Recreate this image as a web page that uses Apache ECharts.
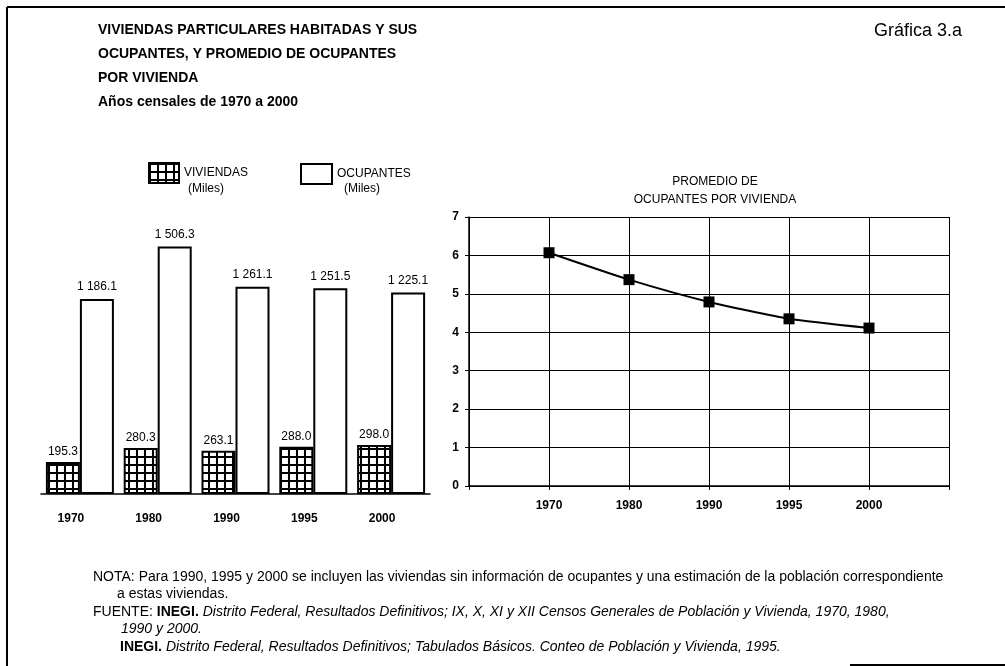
<!DOCTYPE html>
<html>
<head>
<meta charset="utf-8">
<script src="https://cdn.jsdelivr.net/npm/echarts@6/dist/echarts.min.js"></script>
<style>
  html, body { margin: 0; padding: 0; background: #fff; }
  #chart { width: 1005px; height: 666px; }
</style>
</head>
<body>
<div id="chart"></div>
<script>
// datos de la gráfica
const years = ['1970', '1980', '1990', '1995', '2000'];
const viviendas = [195.3, 280.3, 263.1, 288.0, 298.0];   // miles
const ocupantes = [1186.1, 1506.3, 1261.1, 1251.5, 1225.1]; // miles
const promedio = [6.07, 5.37, 4.79, 4.35, 4.11];          // ocupantes por vivienda

const FONT = '"Liberation Sans", Arial, sans-serif';
const NOTE = 14;

// relleno cuadriculado para las barras de viviendas
function gridPattern() {
  const c = document.createElement('canvas');
  c.width = 8; c.height = 8;
  const ctx = c.getContext('2d');
  ctx.fillStyle = '#fff';
  ctx.fillRect(0, 0, 8, 8);
  ctx.fillStyle = '#000';
  ctx.fillRect(0, 0, 8, 2);
  ctx.fillRect(0, 0, 2, 8);
  return c;
}

// 1186.1 -> "1 186.1"
function fmt(v) {
  const parts = v.toFixed(1).split('.');
  return parts[0].replace(/\B(?=(\d{3})+(?!\d))/g, ' ') + '.' + parts[1];
}

const chart = echarts.init(document.getElementById('chart'));

const option = {
  backgroundColor: '#fff',
  animation: false,
  textStyle: { fontFamily: FONT, color: '#000' },
  title: [
    {
      text: 'VIVIENDAS PARTICULARES HABITADAS Y SUS\nOCUPANTES, Y PROMEDIO DE OCUPANTES\nPOR VIVIENDA\nAños censales de 1970 a 2000',
      left: 93, top: 13,
      textStyle: { fontFamily: FONT, fontSize: 14, fontWeight: 'bold', color: '#000', lineHeight: 24 }
    },
    {
      text: 'Gráfica 3.a',
      right: 38, top: 17,
      textStyle: { fontFamily: FONT, fontSize: 18, fontWeight: 'normal', color: '#000' }
    },
    {
      text: 'PROMEDIO DE\nOCUPANTES POR VIVIENDA',
      left: 710, top: 168, textAlign: 'center',
      textStyle: { fontFamily: FONT, fontSize: 12, fontWeight: 'normal', color: '#000', lineHeight: 18, align: 'center' }
    }
  ],
  legend: [
    {
      data: ['VIVIENDAS'], icon: 'rect', left: 143, top: 157, itemWidth: 30, itemHeight: 20, itemGap: 4, selectedMode: false,
      textStyle: { fontFamily: FONT, fontSize: 12, color: '#000' }
    },
    {
      data: ['OCUPANTES'], icon: 'rect', left: 295, top: 158, itemWidth: 31, itemHeight: 20, selectedMode: false,
      textStyle: { fontFamily: FONT, fontSize: 12, color: '#000' }
    }
  ],
  grid: [
    { left: 41, right: 575, top: 231, bottom: 172 },
    { left: 469, right: 56, top: 217, bottom: 180 }
  ],
  xAxis: [
    {
      gridIndex: 0, type: 'category', data: years,
      axisLine: { lineStyle: { color: '#000', width: 1.5 } },
      axisTick: { length: 5, lineStyle: { color: '#000' } },
      axisLabel: { color: '#000', fontSize: 12, fontWeight: 'bold', margin: 19, padding: [0, 18, 0, 0] }
    },
    {
      gridIndex: 1, type: 'category', data: [''].concat(years, ['']), boundaryGap: false,
      axisLine: { lineStyle: { color: '#000', width: 1.5 } },
      axisTick: { length: 4, lineStyle: { color: '#000' } },
      splitLine: { show: true, lineStyle: { color: '#000', width: 1 } },
      axisLabel: { color: '#000', fontSize: 12, fontWeight: 'bold', margin: 14, interval: 0 }
    }
  ],
  yAxis: [
    { gridIndex: 0, type: 'value', min: 0, max: 1600, show: false },
    {
      gridIndex: 1, type: 'value', min: 0, max: 7, interval: 1,
      axisLine: { show: true, lineStyle: { color: '#000', width: 1.5 } },
      axisTick: { show: true, length: 4, lineStyle: { color: '#000' } },
      splitLine: { show: true, lineStyle: { color: '#000', width: 1 } },
      axisLabel: { color: '#000', fontSize: 12, fontWeight: 'bold', margin: 10 }
    }
  ],
  series: [
    {
      name: 'VIVIENDAS', type: 'bar', xAxisIndex: 0, yAxisIndex: 0,
      data: viviendas, barWidth: 34, barGap: '0%',
      itemStyle: { color: { image: gridPattern(), repeat: 'repeat' }, borderColor: '#000', borderWidth: 2 },
      label: { show: true, position: 'top', distance: 4, color: '#000', fontSize: 12, formatter: p => fmt(p.value) }
    },
    {
      name: 'OCUPANTES', type: 'bar', xAxisIndex: 0, yAxisIndex: 0,
      data: ocupantes, barWidth: 34,
      itemStyle: { color: '#fff', borderColor: '#000', borderWidth: 2 },
      label: { show: true, position: 'top', distance: 6, color: '#000', fontSize: 12, formatter: p => fmt(p.value) }
    },
    {
      name: 'PROMEDIO', type: 'line', xAxisIndex: 1, yAxisIndex: 1,
      data: [null].concat(promedio, [null]),
      smooth: 0.2, symbol: 'rect', symbolSize: 11,
      itemStyle: { color: '#000' },
      lineStyle: { color: '#000', width: 2 }
    }
  ],
  graphic: [
    // marco
    { type: 'line', shape: { x1: 7, y1: 7, x2: 1005, y2: 7 }, style: { stroke: '#000', lineWidth: 2 } },
    { type: 'line', shape: { x1: 7, y1: 7, x2: 7, y2: 666 }, style: { stroke: '#000', lineWidth: 2 } },
    { type: 'line', shape: { x1: 850, y1: 665, x2: 1005, y2: 665 }, style: { stroke: '#000', lineWidth: 2 } },
    // unidades de la leyenda
    { type: 'text', x: 206, y: 189, style: { text: '(Miles)', font: '12px ' + FONT, fill: '#000', textAlign: 'center', textVerticalAlign: 'middle' } },
    { type: 'text', x: 362, y: 189, style: { text: '(Miles)', font: '12px ' + FONT, fill: '#000', textAlign: 'center', textVerticalAlign: 'middle' } },
    // notas
    { type: 'text', x: 93, y: 577, style: { text: 'NOTA: Para 1990, 1995 y 2000 se incluyen las viviendas sin información de ocupantes y una estimación de la población correspondiente', font: NOTE + 'px ' + FONT, fill: '#000', textVerticalAlign: 'middle' } },
    { type: 'text', x: 117, y: 594, style: { text: 'a estas viviendas.', font: NOTE + 'px ' + FONT, fill: '#000', textVerticalAlign: 'middle' } },
    {
      type: 'text', x: 93, y: 612,
      style: {
        text: '{n|FUENTE: }{b|INEGI.}{i| Distrito Federal, Resultados Definitivos; IX, X, XI y XII Censos Generales de Población y Vivienda, 1970, 1980,}',
        textVerticalAlign: 'middle',
        rich: {
          n: { fontFamily: FONT, fontSize: NOTE, fill: '#000' },
          b: { fontFamily: FONT, fontSize: NOTE, fontWeight: 'bold', fill: '#000' },
          i: { fontFamily: FONT, fontSize: NOTE, fontStyle: 'italic', fill: '#000' }
        }
      }
    },
    { type: 'text', x: 121, y: 629, style: { text: '1990 y 2000.', font: 'italic ' + NOTE + 'px ' + FONT, fill: '#000', textVerticalAlign: 'middle' } },
    {
      type: 'text', x: 120, y: 647,
      style: {
        text: '{b|INEGI.}{i| Distrito Federal, Resultados Definitivos; Tabulados Básicos. Conteo de Población y Vivienda, 1995.}',
        textVerticalAlign: 'middle',
        rich: {
          b: { fontFamily: FONT, fontSize: NOTE, fontWeight: 'bold', fill: '#000' },
          i: { fontFamily: FONT, fontSize: NOTE, fontStyle: 'italic', fill: '#000' }
        }
      }
    }
  ]
};

chart.setOption(option);
</script>
</body>
</html>
